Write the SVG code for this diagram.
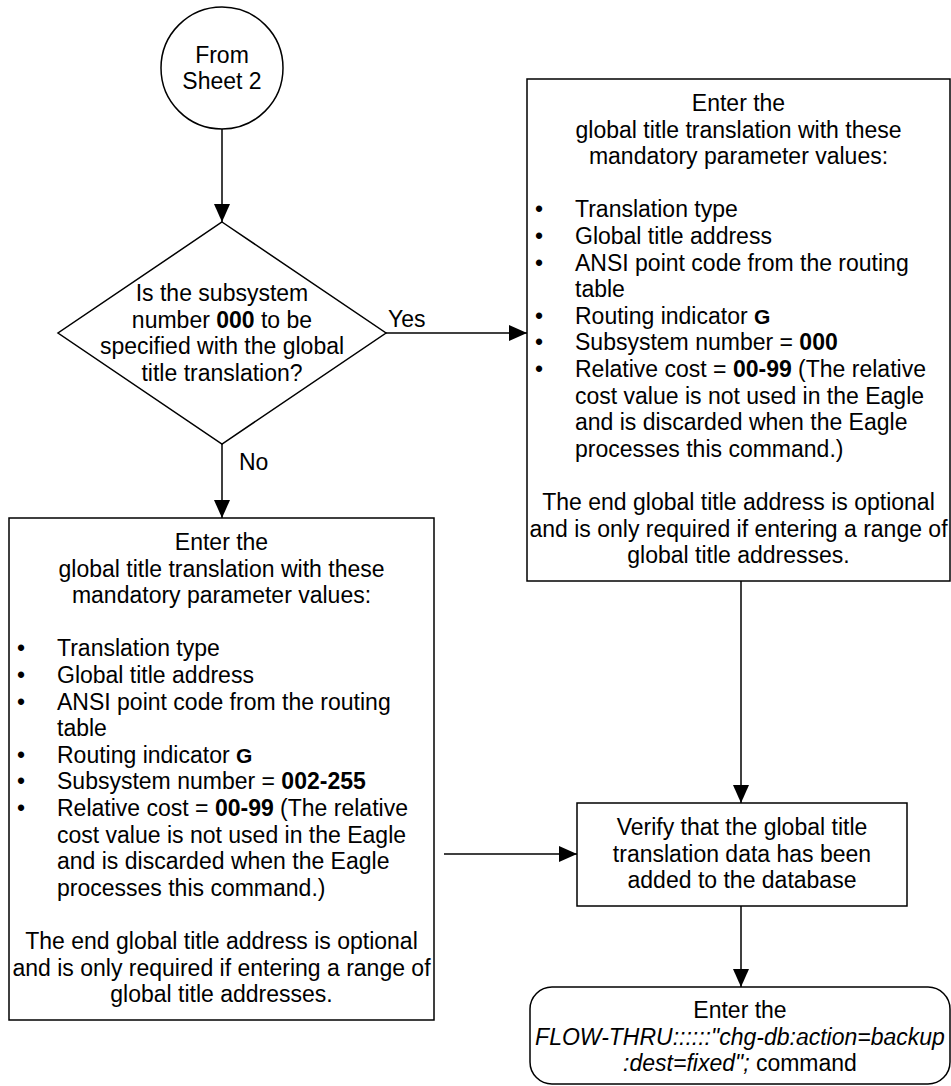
<svg xmlns="http://www.w3.org/2000/svg" width="951" height="1086" viewBox="0 0 951 1086">
  <style>
    .shape { fill: #ffffff; stroke: #000000; stroke-width: 1.5; }
    .conn { fill: none; stroke: #000000; stroke-width: 1.5; }
    text { font-family: "Liberation Sans", Arial, sans-serif; font-size: 23px; fill: #000000; }
    .c { text-anchor: middle; }
    .b { font-weight: bold; }
    .g { font-weight: bold; font-size: 21px; }
    .i { font-style: italic; }
  </style>
  <defs>
    <marker id="arrow" markerUnits="userSpaceOnUse" markerWidth="18" markerHeight="16" refX="18" refY="8" orient="auto">
      <path d="M0,0 L18,8 L0,16 z" fill="#000000"/>
    </marker>
  </defs>

  <g id="connectors">
    <line class="conn" x1="222" y1="129" x2="222" y2="222" marker-end="url(#arrow)"/>
    <line class="conn" x1="386" y1="333" x2="527" y2="333" marker-end="url(#arrow)"/>
    <line class="conn" x1="222" y1="444" x2="222" y2="518" marker-end="url(#arrow)"/>
    <line class="conn" x1="741" y1="581" x2="741" y2="803" marker-end="url(#arrow)"/>
    <line class="conn" x1="444" y1="854" x2="577" y2="854" marker-end="url(#arrow)"/>
    <line class="conn" x1="741" y1="906" x2="741" y2="987" marker-end="url(#arrow)"/>
    <text x="388" y="327">Yes</text>
    <text x="239" y="470">No</text>
  </g>

  <g id="start">
    <circle class="shape" cx="222" cy="68" r="61"/>
    <text class="c" x="222" y="63">From</text>
    <text class="c" x="222" y="89">Sheet 2</text>
  </g>

  <g id="decision">
    <polygon class="shape" points="222,222 386,333 222,444 58,333"/>
    <text class="c" x="222" y="301">Is the subsystem</text>
    <text class="c" x="222" y="328">number <tspan class="b">000</tspan> to be</text>
    <text class="c" x="222" y="354">specified with the global</text>
    <text class="c" x="222" y="381">title translation?</text>
  </g>

  <g id="enter-ssn000">
    <rect class="shape" x="527" y="79" width="423" height="502"/>
    <text class="c" x="738.5" y="111">Enter the</text>
    <text class="c" x="738.5" y="137.6">global title translation with these</text>
    <text class="c" x="738.5" y="164.2">mandatory parameter values:</text>
    <text x="535" y="217.4">•</text><text x="575" y="217.4">Translation type</text>
    <text x="535" y="244">•</text><text x="575" y="244">Global title address</text>
    <text x="535" y="270.6">•</text><text x="575" y="270.6">ANSI point code from the routing</text>
    <text x="575" y="297.2">table</text>
    <text x="535" y="323.8">•</text><text x="575" y="323.8">Routing indicator <tspan class="g">G</tspan></text>
    <text x="535" y="350.4">•</text><text x="575" y="350.4">Subsystem number = <tspan class="b">000</tspan></text>
    <text x="535" y="377">•</text><text x="575" y="377">Relative cost = <tspan class="b">00-99</tspan> (The relative</text>
    <text x="575" y="403.6">cost value is not used in the Eagle</text>
    <text x="575" y="430.2">and is discarded when the Eagle</text>
    <text x="575" y="456.8">processes this command.)</text>
    <text class="c" x="738.5" y="510">The end global title address is optional</text>
    <text class="c" x="738.5" y="536.6">and is only required if entering a range of</text>
    <text class="c" x="738.5" y="563.2">global title addresses.</text>
  </g>

  <g id="enter-ssn-range">
    <rect class="shape" x="9" y="518" width="425" height="502"/>
    <text class="c" x="221.5" y="550">Enter the</text>
    <text class="c" x="221.5" y="576.6">global title translation with these</text>
    <text class="c" x="221.5" y="603.2">mandatory parameter values:</text>
    <text x="17" y="656.4">•</text><text x="57" y="656.4">Translation type</text>
    <text x="17" y="683">•</text><text x="57" y="683">Global title address</text>
    <text x="17" y="709.6">•</text><text x="57" y="709.6">ANSI point code from the routing</text>
    <text x="57" y="736.2">table</text>
    <text x="17" y="762.8">•</text><text x="57" y="762.8">Routing indicator <tspan class="g">G</tspan></text>
    <text x="17" y="789.4">•</text><text x="57" y="789.4">Subsystem number = <tspan class="b">002-255</tspan></text>
    <text x="17" y="816">•</text><text x="57" y="816">Relative cost = <tspan class="b">00-99</tspan> (The relative</text>
    <text x="57" y="842.6">cost value is not used in the Eagle</text>
    <text x="57" y="869.2">and is discarded when the Eagle</text>
    <text x="57" y="895.8">processes this command.)</text>
    <text class="c" x="221.5" y="949">The end global title address is optional</text>
    <text class="c" x="221.5" y="975.6">and is only required if entering a range of</text>
    <text class="c" x="221.5" y="1002.2">global title addresses.</text>
  </g>

  <g id="verify">
    <rect class="shape" x="577" y="803" width="330" height="103"/>
    <text class="c" x="742" y="835">Verify that the global title</text>
    <text class="c" x="742" y="861.6">translation data has been</text>
    <text class="c" x="742" y="888">added to the database</text>
  </g>

  <g id="backup">
    <rect class="shape" x="530" y="987" width="420" height="97" rx="22" ry="22"/>
    <text class="c" x="740" y="1018">Enter the</text>
    <text class="c i" x="740" y="1044.6">FLOW-THRU::::::"chg-db:action=backup</text>
    <text class="c" x="740" y="1071.2"><tspan class="i">:dest=fixed";</tspan> command</text>
  </g>
</svg>
